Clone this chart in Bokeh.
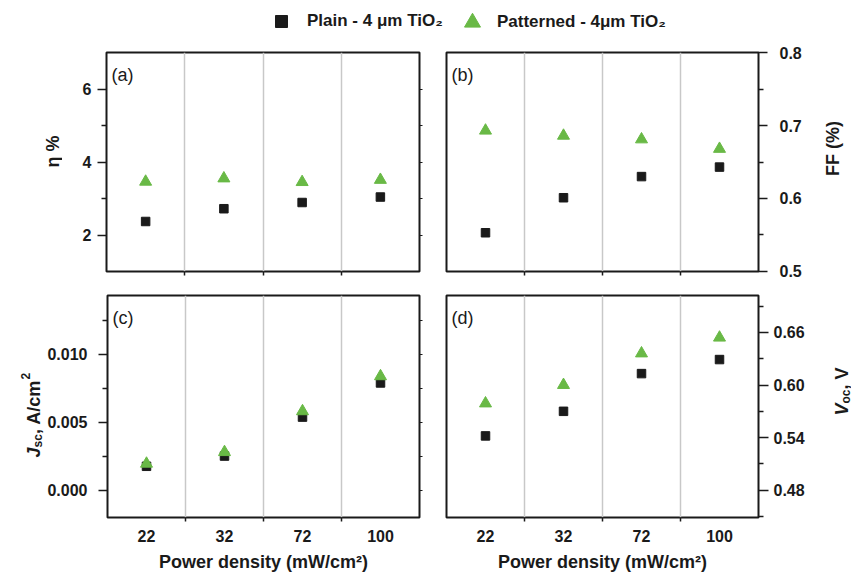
import math
from bokeh.plotting import figure
from bokeh.models import (Range1d, FixedTicker, LinearAxis, Label, Legend, LegendItem,
                          ColumnDataSource, NumeralTickFormatter, Grid)
from bokeh.layouts import column, row
from bokeh.embed import file_html
from bokeh.resources import INLINE

FONT = "Liberation Sans"
INK = "#1a1a1a"
GREEN = "#69b946"
GRID = "#c8c8c8"

# ---- data ----
power_labels = ["22", "32", "72", "100"]          # mW/cm^2
eff_plain = [2.37, 2.72, 2.89, 3.04]              # eta %
eff_pat = [3.46, 3.55, 3.45, 3.51]
ff_plain = [0.553, 0.601, 0.630, 0.643]           # FF
ff_pat = [0.693, 0.686, 0.681, 0.668]
jsc_plain = [0.00176, 0.00251, 0.00537, 0.00788]  # A/cm^2
jsc_pat = [0.00195, 0.0028, 0.0058, 0.00837]
voc_plain = [0.542, 0.570, 0.613, 0.629]          # V
voc_pat = [0.579, 0.600, 0.636, 0.654]

legend_plain = "Plain - 4 \u03bcm TiO\u2082"
legend_pat = "Patterned - 4\u03bcm TiO\u2082"
x_title = "Power density (mW/cm\u00b2)"

# category centres / boundaries (categorical positions)
x_pos = [i + 0.5 for i in range(len(power_labels))]
bounds = [float(i) for i in range(1, len(power_labels))]


def blank_fig(width, height, mbt=0, mbb=0):
    f = figure(width=width, height=height, output_backend="svg", toolbar_location=None,
               x_range=Range1d(0, 1), y_range=Range1d(0, 1),
               x_axis_type=None, y_axis_type=None,
               min_border_left=0, min_border_right=0,
               min_border_top=mbt, min_border_bottom=mbb)
    f.outline_line_color = None
    f.background_fill_color = "white"
    f.border_fill_color = "white"
    return f


def make_panel(width, height, mbl, mbr, mbt, mbb, yr, yticks, yminor, yfmt,
               yside, show_x, plain, pat, letter, ystand, ytick_out):
    p = figure(width=width, height=height, output_backend="svg", toolbar_location=None,
               x_range=Range1d(0, len(power_labels)), y_range=Range1d(*yr),
               x_axis_type=None, y_axis_type=None,
               min_border_left=mbl, min_border_right=mbr,
               min_border_top=mbt, min_border_bottom=mbb)
    p.background_fill_color = "white"
    p.border_fill_color = "white"
    p.outline_line_color = INK
    p.outline_line_width = 2
    p.outline_line_alpha = 1

    p.add_layout(Grid(dimension=0, ticker=FixedTicker(ticks=bounds),
                      grid_line_color=GRID, grid_line_width=1.5))

    if show_x:
        overrides = {xv: lab for xv, lab in zip(x_pos, power_labels)}
    else:
        overrides = {xv: "" for xv in x_pos}
    xa = LinearAxis(ticker=FixedTicker(ticks=x_pos, minor_ticks=bounds),
                    major_label_overrides=overrides,
                    axis_line_color=None, major_tick_line_color=None,
                    major_tick_out=0, major_tick_in=0,
                    minor_tick_out=4, minor_tick_in=0,
                    minor_tick_line_color=INK, minor_tick_line_width=1.5,
                    major_label_standoff=8 if show_x else 0,
                    major_label_text_font=FONT,
                    major_label_text_font_size="16px" if show_x else "1px",
                    major_label_text_font_style="bold", major_label_text_color=INK)
    if show_x:
        xa.axis_label = x_title
        xa.axis_label_text_font = FONT
        xa.axis_label_text_font_size = "18px"
        xa.axis_label_text_font_style = "bold"
        xa.axis_label_text_color = INK
        xa.axis_label_standoff = 7
    p.add_layout(xa, "below")

    ya = LinearAxis(ticker=FixedTicker(ticks=yticks, minor_ticks=yminor),
                    formatter=NumeralTickFormatter(format=yfmt),
                    axis_line_color=None,
                    major_tick_out=ytick_out, major_tick_in=0,
                    minor_tick_out=5, minor_tick_in=0,
                    major_tick_line_color=INK, minor_tick_line_color=INK,
                    major_tick_line_width=1.5, minor_tick_line_width=1.5,
                    major_label_standoff=ystand,
                    major_label_text_font=FONT, major_label_text_font_size="16px",
                    major_label_text_font_style="bold", major_label_text_color=INK)
    p.add_layout(ya, yside)
    if yside == "left":
        ma = LinearAxis(ticker=FixedTicker(ticks=yticks, minor_ticks=yminor),
                        major_label_overrides={t: "" for t in yticks},
                        axis_line_color=None,
                        major_tick_out=3, major_tick_in=0,
                        minor_tick_out=3, minor_tick_in=0,
                        major_tick_line_color=INK, minor_tick_line_color=INK,
                        major_label_standoff=0, major_label_text_font_size="1px")
        p.add_layout(ma, "right")

    src = ColumnDataSource(dict(x=x_pos, plain=plain, pat=pat))
    p.scatter(x="x", y="plain", source=src, marker="square", size=8.5,
              fill_color=INK, line_color=INK)
    p.scatter(x="x", y="pat", source=src, marker="triangle", size=12,
              fill_color=GREEN, line_color=GREEN)

    fh = height - mbt - mbb
    p.add_layout(Label(x=5, y=fh - 12, x_units="screen", y_units="screen", text=letter,
                       text_font=FONT, text_font_size="18px", text_baseline="top",
                       text_color=INK))
    return p


def title_label(f, x, y, text, size="18px", style="bold", align="left", baseline="alphabetic"):
    f.add_layout(Label(x=x, y=y, x_units="screen", y_units="screen", text=text,
                       angle=math.pi / 2, text_font=FONT, text_font_size=size,
                       text_font_style=style, text_align=align, text_baseline=baseline,
                       text_color=INK))


H1, H2 = 243, 295

# row 1: strip | (a) | (b) | strip     (frames span page y 52..271)
left1 = blank_fig(62, H1, 12, 12)
pa = make_panel(370, H1, 44, 13, 12, 12, (1, 7), [2, 4, 6], [3, 5], "0",
                "left", False, eff_plain, eff_pat, "(a)", 6, 9)
pb = make_panel(383, H1, 14, 57, 12, 12, (0.4999, 0.8001), [0.5, 0.6, 0.7, 0.8],
                [0.55, 0.65, 0.75], "0.0", "right", False, ff_plain, ff_pat, "(b)", 12, 9)
right1 = blank_fig(36, H1, 12, 12)

# row 2: strip | (c) | (d) | strip     (frames span page y 295..517)
left2 = blank_fig(44, H2, 12, 61)
pc = make_panel(388, H2, 62, 13, 12, 61, (-0.002, 0.0143), [0.0, 0.005, 0.010],
                [0.0025, 0.0075, 0.0125], "0.000", "left", True, jsc_plain, jsc_pat,
                "(c)", 11, 9)
pd = make_panel(396, H2, 14, 70, 12, 61, (0.449, 0.702), [0.48, 0.54, 0.60, 0.66],
                [0.45, 0.51, 0.57, 0.63, 0.69], "0.00", "right", True, voc_plain, voc_pat,
                "(d)", 5, 10)
right2 = blank_fig(23, H2, 12, 61)

# y titles (rotated, reading bottom to top); coordinates relative to each strip's frame
title_label(left1, 52, 120, "\u03b7 %", align="center", baseline="middle")
title_label(right1, 17, 123, "FF (%)", align="center", baseline="middle")
# J_sc, A/cm^2
title_label(left2, 33, 60, "J", style="bold italic")
title_label(left2, 37, 70, "sc", size="12px")
title_label(left2, 33, 83.5, ", A/cm")
title_label(left2, 25, 138, "2", size="12px")
# V_oc, V
title_label(right2, 13.5, 102, "V", style="bold italic")
title_label(right2, 17, 114, "oc", size="12px")
title_label(right2, 13.5, 128, ", V")

# legend strip on top
top = blank_fig(851, 40)
r_plain = top.scatter(x=[-5], y=[-5], marker="square", fill_color=INK, line_color=INK)
r_pat = top.scatter(x=[-5], y=[-5], marker="triangle", fill_color=GREEN, line_color=GREEN)

common = dict(padding=0, margin=0, border_line_color=None, background_fill_alpha=0,
              label_text_font=FONT, label_text_font_size="17px",
              label_text_font_style="bold", label_text_color=INK, spacing=0)
leg1 = Legend(items=[LegendItem(label=legend_plain, renderers=[r_plain])],
              location=(266, 4), glyph_width=30, glyph_height=30, label_height=30,
              label_standoff=11, **common)
leg2 = Legend(items=[LegendItem(label=legend_pat, renderers=[r_pat])],
              location=(452, -2), glyph_width=40, glyph_height=40, label_height=40,
              label_standoff=5, **common)
top.add_layout(leg1)
top.add_layout(leg2)

layout = column(top, row(left1, pa, pb, right1), row(left2, pc, pd, right2))

open("out.html", "w").write(file_html(layout, INLINE))
